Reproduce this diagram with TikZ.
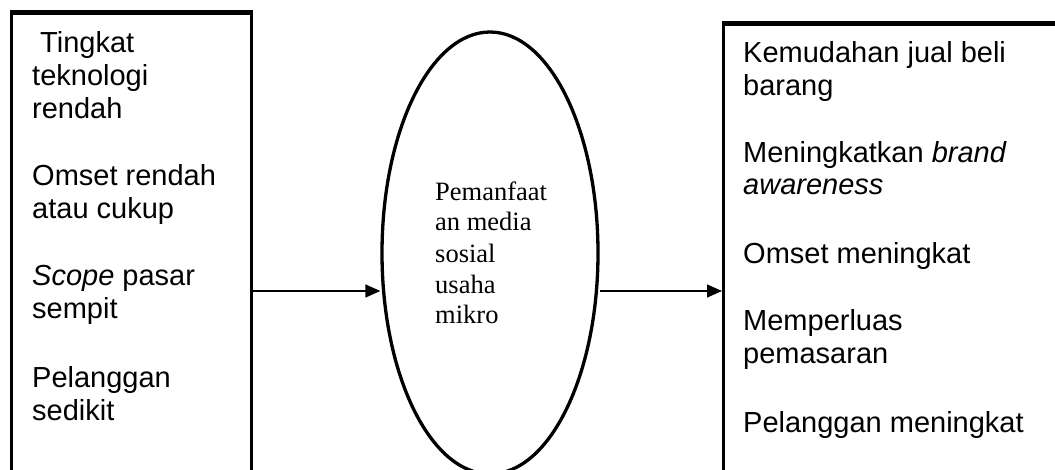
\documentclass[tikz,border=0pt]{standalone}
\usepackage{fontspec}
\setmainfont{Liberation Serif}
\newfontfamily\arial{Liberation Sans}
\usetikzlibrary{arrows.meta,shapes.geometric}
\begin{document}
\begin{tikzpicture}[x=1pt,y=-1pt,
  box/.style={draw,line width=2.6pt,rectangle,anchor=north west,inner sep=0pt},
  ln/.style={anchor=base west,inner sep=0pt,font=\arial\fontsize{29}{33}\selectfont},
  eln/.style={anchor=base west,inner sep=0pt,font=\fontsize{26.5}{31}\selectfont},
  arr/.style={line width=1.4pt,-{Triangle[length=15pt,width=13pt]}}]
\useasboundingbox (0,0) rectangle (1055,469);
\clip (0,0) rectangle (1055,469);
\fill[white] (0,0) rectangle (1055,469);
% boxes
\node[box,minimum width=240pt,minimum height=490pt] (lbox) at (10,12) {};
\draw[line width=4.2pt] (lbox.north west) -- (lbox.north east);
\node[box,minimum width=360pt,minimum height=490pt] (rbox) at (722,23) {};
\draw[line width=3.3pt] (rbox.north west) -- (rbox.north east);
\node[draw,ellipse,line width=3.3pt,minimum width=216pt,minimum height=442pt,inner sep=0pt] (ell) at (490,253) {};
% left texts
\node[ln] (l1) at (32,52) {\hspace*{8pt}Tingkat};
\node[ln] (l2) at (32,85) {teknologi};
\node[ln] (l3) at (32,118) {rendah};
\node[ln] (l4) at (32,185) {Omset rendah};
\node[ln] (l5) at (32,218) {atau cukup};
\node[ln] (l6) at (32,285) {\itshape Scope\upshape{} pasar};
\node[ln] (l7) at (32,318) {sempit};
\node[ln] (l8) at (32,387) {Pelanggan};
\node[ln] (l9) at (32,420) {sedikit};
% ellipse texts
\node[eln] (e1) at (435,200) {Pemanfaat};
\node[eln] (e2) at (435,230) {an media};
\node[eln] (e3) at (435,262) {sosial};
\node[eln] (e4) at (435,293) {usaha};
\node[eln] (e5) at (435,323) {mikro};
% right texts
\node[ln] (r1) at (743,62) {Kemudahan jual beli};
\node[ln] (r2) at (743,95) {barang};
\node[ln] (r3) at (743,162) {Meningkatkan \itshape brand};
\node[ln] (r4) at (743,194) {\itshape awareness};
\node[ln] (r5) at (743,263) {Omset meningkat};
\node[ln] (r6) at (743,330) {Memperluas};
\node[ln] (r7) at (743,363) {pemasaran};
\node[ln] (r8) at (743,432) {Pelanggan meningkat};
% arrows
\coordinate (ay) at (0,291);
\draw[arr] (lbox.east |- ay) -- (ell.west |- ay);
\draw[arr] (ell.east |- ay) -- (rbox.west |- ay);
\end{tikzpicture}
\end{document}
